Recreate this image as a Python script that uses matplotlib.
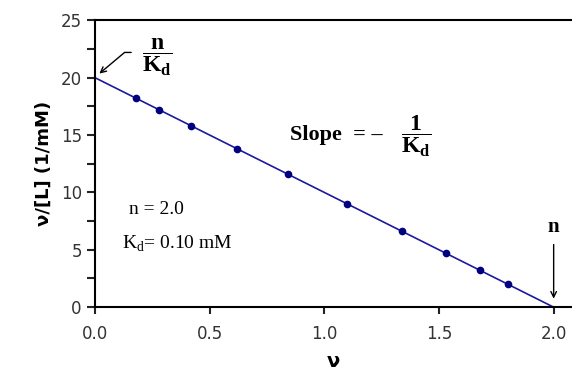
import matplotlib.pyplot as plt
from matplotlib.ticker import MultipleLocator

# --- Data (Scatchard plot) ---
nu = [0.18, 0.28, 0.42, 0.62, 0.84, 1.10, 1.34, 1.53, 1.68, 1.80]
nu_over_L = [18.2, 17.2, 15.8, 13.8, 11.6, 9.0, 6.6, 4.7, 3.2, 2.0]
fit_x = [0.0, 2.0]
fit_y = [20.0, 0.0]

plt.rcParams['mathtext.fontset'] = 'custom'
plt.rcParams['mathtext.rm'] = 'Liberation Serif:bold'
plt.rcParams['mathtext.bf'] = 'Liberation Serif:bold'

fig = plt.figure(figsize=(5.72, 3.83), dpi=100)
ax = fig.add_axes([0.166, 0.198, 0.834, 0.749])

ax.plot(fit_x, fit_y, color='#1a1aa0', lw=1.2, zorder=2)
ax.plot(nu, nu_over_L, 'o', color='#000080', ms=4.5, zorder=3)

ax.set_xlim(0, 2.08)
ax.set_ylim(0, 25)
ax.xaxis.set_major_locator(MultipleLocator(0.5))
ax.yaxis.set_major_locator(MultipleLocator(5))
ax.yaxis.set_minor_locator(MultipleLocator(2.5))
ax.xaxis.set_major_formatter(plt.FormatStrFormatter('%.1f'))
ax.spines['right'].set_visible(False)
for s in ['left', 'bottom', 'top']:
    ax.spines[s].set_linewidth(1.5)
ax.tick_params(axis='both', which='both', direction='out', width=1.5,
               labelsize=12, colors='#222222', labelcolor='#333333')
ax.tick_params(axis='x', length=5, pad=8)
ax.tick_params(axis='y', which='both', length=6)
for lab in ax.get_xticklabels() + ax.get_yticklabels():
    lab.set_fontfamily('DejaVu Sans')

ax.set_xlabel('ν', fontsize=14, fontweight='bold', family='DejaVu Sans', labelpad=6)
ax.set_ylabel('ν/[L] (1/mM)', fontsize=13, fontweight='bold', family='DejaVu Sans', labelpad=6)

# --- Annotations ---
ax.annotate('', xy=(0.01, 20.2), xytext=(0.17, 22.2),
            arrowprops=dict(arrowstyle='->', color='black', lw=1,
                            connectionstyle='angle,angleA=0,angleB=40,rad=0'))
ax.text(0.27, 21.8, r'$\dfrac{\mathrm{n}}{\mathrm{K}_\mathrm{d}}$', fontsize=17,
        ha='center', va='center')
ax.text(0.85, 15.0, 'Slope  = \u2013', fontsize=16, fontweight='bold',
        family='Liberation Serif', ha='left', va='center')
ax.text(1.40, 14.9, r'$\dfrac{\mathrm{1}}{\mathrm{K}_\mathrm{d}}$', fontsize=17,
        ha='center', va='center')
ax.text(0.15, 8.5, 'n = 2.0', fontsize=14, family='Liberation Serif', va='center')
ax.text(0.12, 5.5, r'K$_{\mathregular{d}}$= 0.10 mM', fontsize=14, family='Liberation Serif', va='center')
ax.text(2.0, 7.0, 'n', fontsize=15, fontweight='bold', family='Liberation Serif',
        ha='center', va='center')
ax.annotate('', xy=(2.0, 0.5), xytext=(2.0, 5.7),
            arrowprops=dict(arrowstyle='->', color='black', lw=1))

plt.savefig('out.png', dpi=100)
